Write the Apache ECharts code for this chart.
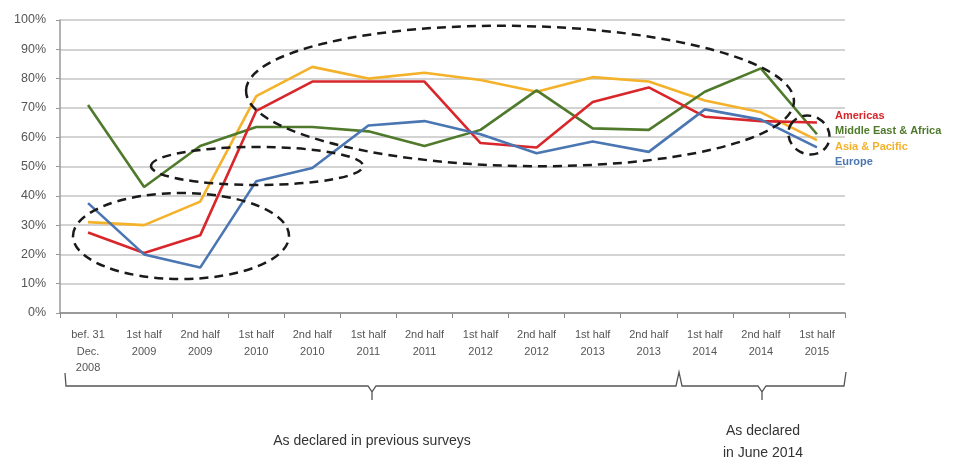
<!DOCTYPE html>
<html><head><meta charset="utf-8">
<script src="https://cdn.jsdelivr.net/npm/echarts@6/dist/echarts.min.js"></script>
<style>html,body{margin:0;padding:0;background:#fff}#c{width:956px;height:457px}</style>
</head><body><div id="c"></div>
<script>
const categories = ['bef. 31\nDec.\n2008','1st half\n2009','2nd half\n2009','1st half\n2010','2nd half\n2010','1st half\n2011','2nd half\n2011','1st half\n2012','2nd half\n2012','1st half\n2013','2nd half\n2013','1st half\n2014','2nd half\n2014','1st half\n2015'];
const americas = [27.5,20.5,26.5,69,79,79,79,58,56.5,72,77,67,65.5,65];
const meAfrica = [71,43,57,63.5,63.5,62,57,62.5,76,63,62.5,75.5,83.5,61];
const asiaPacific = [31,30,38,74,84,80,82,79.5,75.5,80.5,79,72.5,68.5,59];
const europe = [37.5,20,15.5,45,49.5,64,65.5,61,54.5,58.5,55,69.5,66,56.5];
const seriesNames = ['Americas','Middle East & Africa','Asia & Pacific','Europe'];
const colors = ['#d9262b','#4f7a2b','#f4b12a','#4a76b2'];
const yTicks = {min:0,max:100,interval:10};

const chart = echarts.init(document.getElementById('c'));
const dash = {stroke:'#1a1a1a', fill:'none', lineWidth:2.5, lineDash:[9,6]};
const brace = {stroke:'#555', fill:'none', lineWidth:1.3};
const font = 'Liberation Sans, Arial, sans-serif';
chart.setOption({
  animation:false,
  grid:{left:60,right:111,top:20,bottom:144},
  xAxis:{type:'category',data:categories,boundaryGap:true,
    axisLine:{lineStyle:{color:'#888',width:1.5}},
    axisTick:{show:true,length:5,lineStyle:{color:'#888'}},
    axisLabel:{color:'#555',fontSize:11,fontFamily:font,lineHeight:16.5,interval:0,margin:14}},
  yAxis:{type:'value',min:yTicks.min,max:yTicks.max,interval:yTicks.interval,
    axisLine:{show:true,lineStyle:{color:'#999',width:1.5}},
    axisTick:{show:true,length:4,lineStyle:{color:'#999'}},
    splitLine:{lineStyle:{color:'#c4c4c4',width:1.5}},
    axisLabel:{formatter:'{value}%',color:'#555',fontSize:12.5,fontFamily:font,margin:14}},
  series:[americas,meAfrica,asiaPacific,europe].map((d,i)=>({
    name:seriesNames[i],type:'line',data:d,symbol:'none',
    lineStyle:{width:2.6,color:colors[i]},itemStyle:{color:colors[i]},z:[3,2,1,4][i]
  })),
  graphic:[
    {type:'ellipse',shape:{cx:181,cy:236,rx:108,ry:43},style:dash,z:10},
    {type:'ellipse',shape:{cx:257,cy:166,rx:106,ry:19},style:dash,z:10},
    {type:'ellipse',shape:{cx:0,cy:0,rx:274,ry:70},x:520,y:96,rotation:-0.02,style:dash,z:10},
    {type:'ellipse',shape:{cx:0,cy:0,rx:21,ry:19},x:809,y:135,rotation:-0.5,style:dash,z:10},
    {type:'text',x:835,y:116,style:{text:seriesNames[0],fill:colors[0],font:'bold 11px '+font,verticalAlign:'middle'}},
    {type:'text',x:835,y:131,style:{text:seriesNames[1],fill:colors[1],font:'bold 11px '+font,verticalAlign:'middle'}},
    {type:'text',x:835,y:147,style:{text:seriesNames[2],fill:colors[2],font:'bold 11px '+font,verticalAlign:'middle'}},
    {type:'text',x:835,y:162,style:{text:seriesNames[3],fill:colors[3],font:'bold 11px '+font,verticalAlign:'middle'}},
    {type:'polyline',shape:{points:[[65,373],[66,386],[368,386],[372,392],[372,400],[372,392],[376,386],[676,386],[679,372],[682,386],[758,386],[762,392],[762,400],[762,392],[766,386],[844,386],[846,372]]},style:brace},
    {type:'text',x:372,y:441,style:{text:'As declared in previous surveys',fill:'#333',font:'14px '+font,align:'center',verticalAlign:'middle'}},
    {type:'text',x:763,y:442,style:{text:'As declared\nin June 2014',fill:'#333',font:'14px '+font,align:'center',verticalAlign:'middle',lineHeight:22}}
  ]
});
</script></body></html>
